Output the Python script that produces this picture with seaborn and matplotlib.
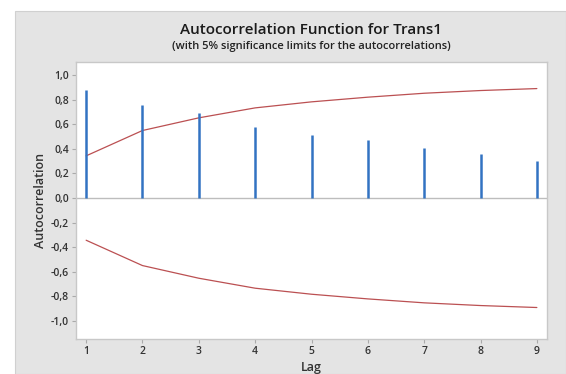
import numpy as np
import pandas as pd
import matplotlib.pyplot as plt
import seaborn as sns
from matplotlib.patches import Rectangle

sns.set_theme(style="white")
plt.rcParams['font.family'] = ['Open Sans', 'DejaVu Sans']

# values
lags = [1, 2, 3, 4, 5, 6, 7, 8, 9]
acf_values = [0.88, 0.76, 0.69, 0.58, 0.51, 0.47, 0.41, 0.36, 0.305]
upper_limit = [0.343, 0.549, 0.652, 0.733, 0.782, 0.820, 0.852, 0.874, 0.890]
lower_limit = [-v for v in upper_limit]
y_ticks = [-1.0, -0.8, -0.6, -0.4, -0.2, 0.0, 0.2, 0.4, 0.6, 0.8, 1.0]

df = pd.DataFrame({'lag': lags, 'acf': acf_values,
                   'upper': upper_limit, 'lower': lower_limit})

fig = plt.figure(figsize=(5.66, 3.74), dpi=100, facecolor='white')
# grey outer panel
fig.patches.append(Rectangle((15 / 566, 0), 1 - 15 / 566, 1 - 11 / 374,
                             transform=fig.transFigure, facecolor='#e4e4e4',
                             edgecolor='#d0d0d0', linewidth=0.8, zorder=-5))

ax = fig.add_axes([76 / 566, 1 - 339 / 374, (547 - 76) / 566, (339 - 62) / 374])
ax.set_zorder(2)
ax.set_facecolor('white')

ax.axhline(0, color='#bdbdbd', linewidth=1.0, zorder=1)
ax.vlines(df['lag'], 0, df['acf'], color='#3273c2', linewidth=1.8, zorder=3)
sns.lineplot(data=df, x='lag', y='upper', ax=ax, color='#bb5052', linewidth=0.9, zorder=2)
sns.lineplot(data=df, x='lag', y='lower', ax=ax, color='#bb5052', linewidth=0.9, zorder=2)

ax.set_xlim(0.82, 9.18)
ax.set_ylim(-1.146, 1.106)
ax.set_xticks(lags)
ax.set_yticks(y_ticks)
ax.set_yticklabels([f"{v:.1f}".replace('.', ',') for v in y_ticks])
ax.tick_params(axis='both', which='both', length=3, width=0.8, color='#aaaaaa',
               labelsize=7.5, labelcolor='#333333', direction='out', pad=2)
ax.tick_params(left=True, bottom=True)
for lab in ax.get_xticklabels() + ax.get_yticklabels():
    lab.set_fontweight('semibold')

for side in ['left', 'bottom', 'top', 'right']:
    ax.spines[side].set_color('#c8c8c8')
    ax.spines[side].set_linewidth(1.0)

ax.set_xlabel('Lag', fontsize=9, fontweight='semibold', color='#333333', labelpad=3)
ax.set_ylabel('Autocorrelation', fontsize=9, fontweight='semibold', color='#333333', labelpad=3)

cx = (76 + 547) / 2 / 566
fig.text(cx, 1 - 30 / 374, 'Autocorrelation Function for Trans1', ha='center', va='center',
         fontsize=11, fontweight='semibold', color='#1a1a1a')
fig.text(cx, 1 - 46 / 374, '(with 5% significance limits for the autocorrelations)',
         ha='center', va='center', fontsize=8, fontweight='semibold', color='#222222')

fig.savefig('out.png', dpi=100, facecolor=fig.get_facecolor())
